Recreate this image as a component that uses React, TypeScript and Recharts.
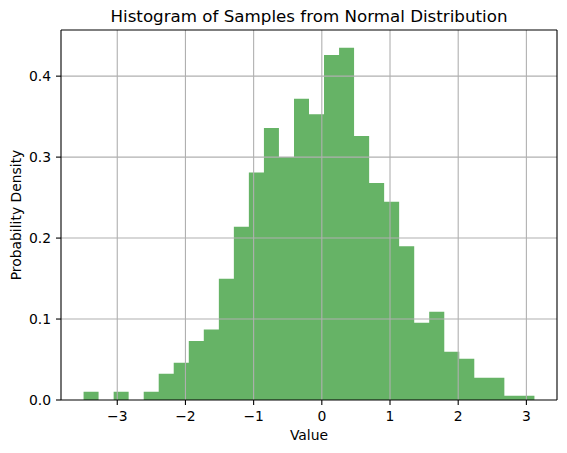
import React from 'react';
import {
  ComposedChart,
  Area,
  XAxis,
  YAxis,
  ReferenceLine,
  Label,
} from 'recharts';

// bin edges (30 bins) and density of each bin
const BIN_EDGES = [
  -3.494, -3.274, -3.053, -2.833, -2.612, -2.392, -2.172, -1.951, -1.731, -1.51,
  -1.29, -1.07, -0.849, -0.629, -0.408, -0.188, 0.032, 0.253, 0.473, 0.694,
  0.914, 1.134, 1.355, 1.575, 1.796, 2.016, 2.236, 2.457, 2.677, 2.898, 3.118,
];

const DENSITY = [
  0.0102, 0, 0.0102, 0, 0.0102, 0.0325, 0.046, 0.073, 0.087, 0.1497,
  0.214, 0.281, 0.336, 0.3, 0.372, 0.353, 0.426, 0.435, 0.326, 0.268,
  0.245, 0.19, 0.0954, 0.109, 0.0596, 0.051, 0.0275, 0.0275, 0.0053, 0.0053,
];

const X_TICKS = [-3, -2, -1, 0, 1, 2, 3];
const Y_TICKS = [0, 0.1, 0.2, 0.3, 0.4];

const X_DOMAIN: [number, number] = [-3.825, 3.449];
const Y_DOMAIN: [number, number] = [0, 0.457];

const FONT = '"DejaVu Sans", sans-serif';
const GRID = '#b0b0b0';

// stepAfter area: each edge holds the density of the bin that starts there
const data = BIN_EDGES.map((x, i) => ({
  x,
  density: i < DENSITY.length ? DENSITY[i] : 0,
}));

const minus = (v: number) => String(v).replace('-', '\u2212');

export default function App() {
  const tickStyle = { fontSize: 13.9, fill: '#000', fontFamily: FONT };

  return (
    <div style={{ position: 'absolute', left: 0, top: 0, background: '#fff' }}>
      <ComposedChart
        width={567}
        height={453}
        data={data}
        margin={{ top: 30, right: 10, bottom: 0, left: 0 }}
      >
        <XAxis
          dataKey="x"
          type="number"
          domain={X_DOMAIN}
          ticks={X_TICKS}
          allowDataOverflow
          tickFormatter={minus}
          tick={tickStyle}
          tickSize={5}
          tickMargin={6}
          height={53}
          axisLine={{ stroke: '#000', strokeWidth: 1.1 }}
          tickLine={{ stroke: '#000', strokeWidth: 1.1 }}
        >
          <Label
            value="Value"
            position="insideBottom"
            offset={13}
            style={{ fontSize: 13.9, fill: '#000', fontFamily: FONT }}
          />
        </XAxis>
        <YAxis
          type="number"
          domain={Y_DOMAIN}
          ticks={Y_TICKS}
          allowDataOverflow
          tickFormatter={(v: number) => v.toFixed(1)}
          tick={tickStyle}
          tickSize={5}
          tickMargin={5}
          width={61}
          axisLine={{ stroke: '#000', strokeWidth: 1.1 }}
          tickLine={{ stroke: '#000', strokeWidth: 1.1 }}
        >
          <Label
            value="Probability Density"
            angle={-90}
            position="insideLeft"
            offset={16}
            style={{
              fontSize: 13.9,
              fill: '#000',
              fontFamily: FONT,
              textAnchor: 'middle',
            }}
          />
        </YAxis>

        <Area
          dataKey="density"
          type="stepAfter"
          fill="#66b366"
          fillOpacity={1}
          stroke="none"
          dot={false}
          activeDot={false}
          isAnimationActive={false}
        />

        {X_TICKS.map((t) => (
          <ReferenceLine key={`gx${t}`} x={t} stroke={GRID} strokeWidth={1.1} />
        ))}
        {Y_TICKS.filter((t) => t > 0).map((t) => (
          <ReferenceLine key={`gy${t}`} y={t} stroke={GRID} strokeWidth={1.1} />
        ))}

        {/* top and right spines */}
        <ReferenceLine
          y={Y_DOMAIN[1]}
          ifOverflow="visible"
          stroke="#000"
          strokeWidth={1.1}
        >
          <Label
            value="Histogram of Samples from Normal Distribution"
            position="top"
            offset={8}
            style={{ fontSize: 16.7, fill: '#000', fontFamily: FONT }}
          />
        </ReferenceLine>
        <ReferenceLine
          x={X_DOMAIN[1]}
          ifOverflow="visible"
          stroke="#000"
          strokeWidth={1.1}
        />
      </ComposedChart>
    </div>
  );
}
